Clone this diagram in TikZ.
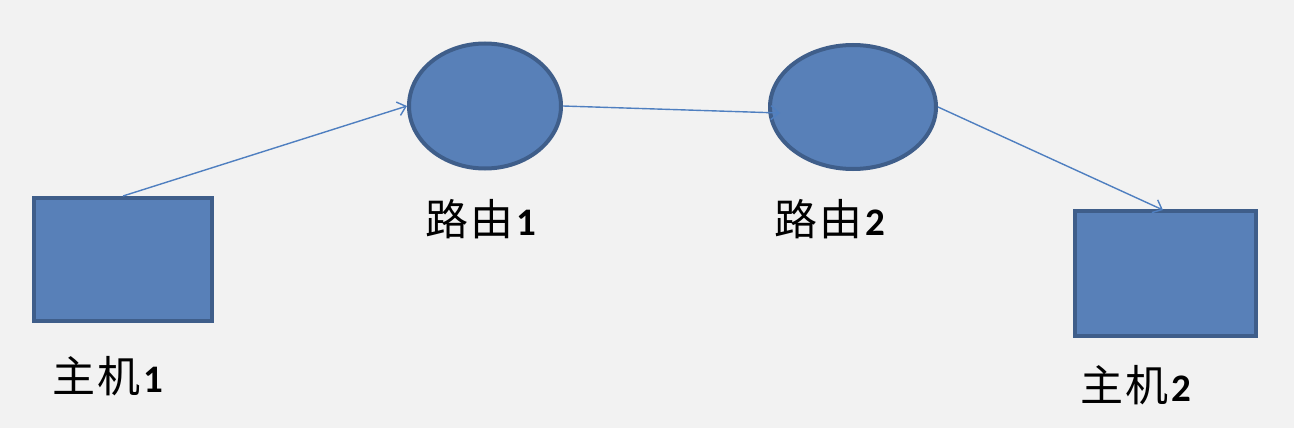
\documentclass[tikz,border=0pt]{standalone}
\usepackage{fontspec}
\newfontfamily\cjk{Noto Sans CJK SC}
\newfontfamily\digfont{Carlito}
\usetikzlibrary{shapes.geometric,arrows.meta}
\definecolor{bg}{HTML}{F2F2F2}
\definecolor{fillb}{HTML}{5880B8}
\definecolor{edgeb}{HTML}{3F5E8A}
\definecolor{lineb}{HTML}{4F7FC0}
\tikzset{
  hostbox/.style={draw=edgeb, fill=fillb, line width=4pt, rectangle, inner sep=0pt},
  router/.style={draw=edgeb, fill=fillb, line width=4pt, ellipse, inner sep=0pt},
  link/.style={draw=lineb, line width=1.4pt, -{Straight Barb[length=8pt,width=14pt,line width=1.4pt]}},
  lbl/.style={inner sep=0pt, text=black, anchor=center}
}
\newcommand{\lab}[3]{{\fontsize{43}{46}\selectfont\cjk #1\hspace{2pt}#2}\hspace{3pt}{\fontsize{39}{46}\selectfont\digfont\bfseries #3}}
\begin{document}
\begin{tikzpicture}[x=1pt,y=-1pt]
\useasboundingbox[fill=bg] (0,0) rectangle (1294,428);
\node[hostbox, minimum width=178pt, minimum height=123pt] (h1) at (123,259.5) {};
\node[hostbox, minimum width=181pt, minimum height=125pt] (h2) at (1165.5,273.5) {};
\node[router, minimum width=152pt, minimum height=125pt] (r1) at (485,106) {};
\node[router, minimum width=166pt, minimum height=124pt] (r2) at (853,107) {};
\coordinate (r2in) at (780,113);
\coordinate (h2in) at (1163,210);
\draw[link] (h1.north) -- (r1.west);
\draw[link] (r1.east) -- (r2in);
\draw[link] (r2.east) -- (h2in);
\node[lbl] (l1) at (480.5,219) {\lab{路}{由}{1}};
\node[lbl] (l2) at (830,219) {\lab{路}{由}{2}};
\node[lbl] (l3) at (107.5,376) {\lab{主}{机}{1}};
\node[lbl] (l4) at (1136,385) {\lab{主}{机}{2}};
\end{tikzpicture}
\end{document}
